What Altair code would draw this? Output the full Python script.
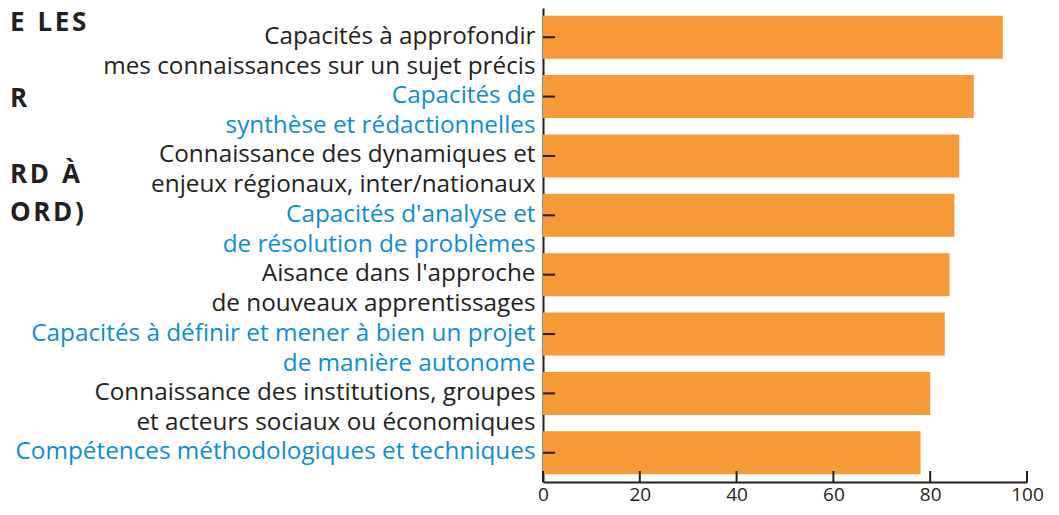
import altair as alt
import pandas as pd

# ---- data ----
categories = [
    "Capacités à approfondir\u00a0|mes connaissances sur un sujet précis",
    "Capacités de|synthèse et rédactionnelles",
    "Connaissance des dynamiques et\u00a0|enjeux régionaux, inter/nationaux",
    "Capacités d'analyse et\u00a0|de résolution de problèmes",
    "Aisance dans l'approche\u00a0|de nouveaux apprentissages",
    "Capacités à définir et mener à bien un projet\u00a0|de manière autonome",
    "Connaissance des institutions, groupes\u00a0|et acteurs sociaux ou économiques",
    "Compétences méthodologiques et techniques",
]
values = [95, 89, 86, 85, 84, 83, 80, 78]
x_ticks = [0, 20, 40, 60, 80, 100]
# visible (cropped) fragments of the title and the line of the title they sit on
title_lines = ["E\u2002L\u200aE\u200aS", "R", "R\u200aD\u2002À", "O\u200aR\u200aD\u200a)"]
title_line_no = [0, 2, 4, 5]

# ---- styles ----
ORANGE = "#F69A38"
BLACK = "#231F20"
BLUE = "#0E8DD3"
FONT = "Open Sans"
W, H = 484, 474
N = len(categories)

df = pd.DataFrame({"cat": categories, "val": values})
ticks_df = pd.DataFrame({"t": x_ticks})
title_df = pd.DataFrame({"line": title_line_no, "txt": title_lines})

label_color = {
    "condition": {"test": f"round(datum.index*{N-1}) % 2 == 1", "value": BLUE},
    "value": BLACK,
}

base = alt.Chart(df)

bars = base.mark_bar(color=ORANGE).encode(
    x=alt.X(
        "val:Q",
        scale=alt.Scale(domain=[0, 100], nice=False, zero=True),
        axis=alt.Axis(
            values=x_ticks, ticks=False, grid=False, title=None,
            domainColor=BLACK, domainWidth=2,
            labelFont=FONT, labelFontSize=19, labelColor=BLACK,
            labelPadding=3, labelFlush=False,
        ),
    ),
    y=alt.Y(
        "cat:N",
        sort=categories,
        scale=alt.Scale(paddingInner=0.275, paddingOuter=0.13),
        axis=alt.Axis(
            ticks=False, grid=False, title=None,
            domainColor=BLACK, domainWidth=2,
            labelFont=FONT, labelFontSize=24.3, labelColor=label_color,
            labelPadding=8, labelLimit=0, labelBaseline="top",
            labelOffset=-12.5, labelLineHeight=30,
            labelExpr="split(datum.label, '|')",
        ),
    ),
)

yticks = base.mark_rule(color=BLACK, strokeWidth=2).encode(
    y=alt.Y("cat:N", sort=categories, title=None),
    x=alt.value(0),
    x2=alt.value(12),
)

xticks = alt.Chart(ticks_df).mark_rule(color=BLACK, strokeWidth=2).encode(
    x=alt.X("t:Q", title=None),
    y=alt.value(H),
    y2=alt.value(H - 11),
)

title = alt.Chart(title_df).mark_text(
    align="left", baseline="middle", font=FONT, fontSize=26,
    fontWeight="bold", color=BLACK,
).encode(
    x=alt.value(-533),
    y=alt.Y("line:Q", scale=alt.Scale(domain=[0, 5], range=[15, 205]), axis=None),
    text="txt:N",
)

chart = (
    alt.layer(alt.layer(bars, yticks, xticks), title)
    .resolve_scale(y="independent")
    .properties(
        width=W, height=H,
        autosize=alt.AutoSizeParams(type="none"),
        padding={"left": 535, "top": 0, "right": 24, "bottom": 25},
        background="white",
    )
    .configure_view(stroke=None)
)

chart.save("out.html", embed_options={"renderer": "svg", "actions": False})
